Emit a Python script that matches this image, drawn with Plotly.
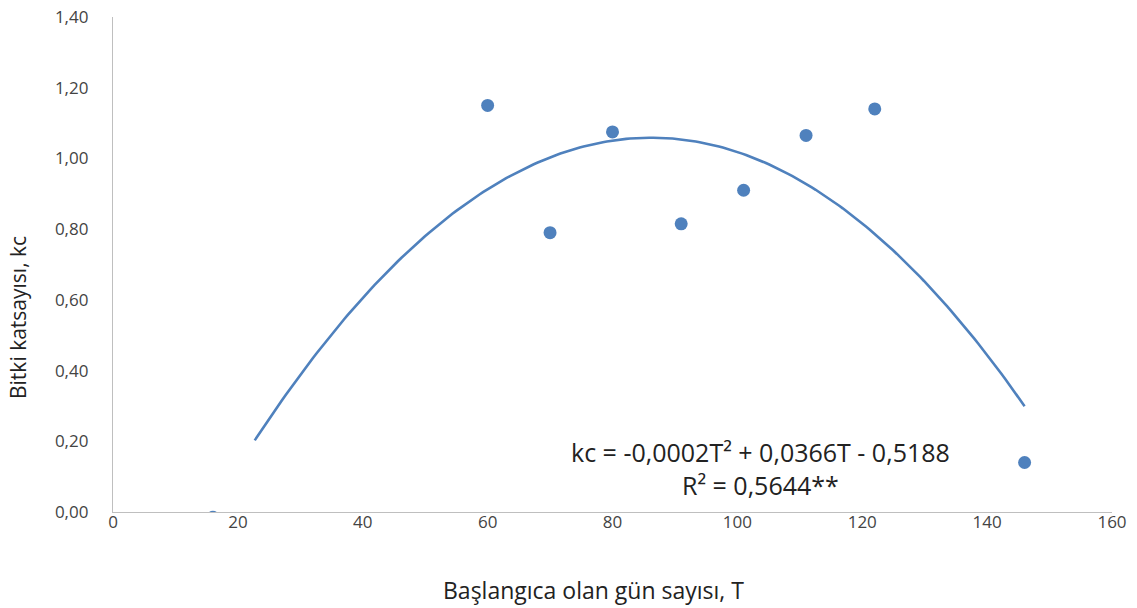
import numpy as np
import plotly.graph_objects as go

# Observed data (days from start, crop coefficient)
days = [16, 60, 70, 80, 91, 101, 111, 122, 146]
kc = [-0.015, 1.15, 0.79, 1.075, 0.815, 0.91, 1.065, 1.14, 0.14]

# Polynomial trendline coefficients (kc = a*T^2 + b*T + c)
coef_a = -0.0002123
coef_b = 0.0366
coef_c = -0.5188
trend_start = 22.7
trend_end = 146

x_ticks = [0, 20, 40, 60, 80, 100, 120, 140, 160]
y_ticks = [0.0, 0.2, 0.4, 0.6, 0.8, 1.0, 1.2, 1.4]
y_tick_labels = ["0,00", "0,20", "0,40", "0,60", "0,80", "1,00", "1,20", "1,40"]

blue = "#4F81BD"
font = "Open Sans, Liberation Sans, sans-serif"

L, R, T, B, W, H = 113, 25, 17, 96, 1137, 608
pw, ph = W - L - R, H - T - B

tx = np.linspace(trend_start, trend_end, 200)
ty = coef_a * tx**2 + coef_b * tx + coef_c

fig = go.Figure()
fig.add_trace(go.Scatter(x=tx, y=ty, mode="lines",
                         line=dict(color=blue, width=2.6), hoverinfo="skip"))
fig.add_trace(go.Scatter(x=days, y=kc, mode="markers",
                         marker=dict(color=blue, size=13), cliponaxis=True))

# Trendline equation
fig.add_annotation(x=(760 - L) / pw, xref="paper", y=(H - B - 468) / ph, yref="paper",
                   text="kc = -0,0002T² + 0,0366T - 0,5188<br>R² = 0,5644**",
                   showarrow=False, align="center", yanchor="middle",
                   font=dict(family=font, size=25, color="#222222"))
# Axis titles
fig.add_annotation(x=(593 - L) / pw, xref="paper", y=(H - B - 590) / ph, yref="paper",
                   text="Başlangıca olan gün sayısı, T", showarrow=False,
                   xanchor="center", yanchor="middle",
                   font=dict(family=font, size=23, color="#222222"))
fig.add_annotation(x=(18 - L) / pw, xref="paper", y=(H - B - 318) / ph, yref="paper",
                   text="Bitki katsayısı, kc", showarrow=False, textangle=-90,
                   xanchor="center", yanchor="middle",
                   font=dict(family=font, size=21, color="#222222"))

fig.update_layout(
    width=W, height=H,
    margin=dict(l=L, r=R, t=T, b=B),
    paper_bgcolor="white", plot_bgcolor="white",
    showlegend=False,
    font=dict(family=font, size=16, color="#444444"),
    xaxis=dict(range=[0, 160], tickvals=x_ticks, showgrid=False, zeroline=False,
               showline=True, linecolor="#BFBFBF", linewidth=1.3, automargin=False,
               ticks="", tickfont=dict(size=17, color="#444444"), ticklabelstandoff=-6),
    yaxis=dict(range=[0, 1.4], tickvals=y_ticks, ticktext=y_tick_labels,
               showgrid=False, zeroline=False, automargin=False,
               showline=True, linecolor="#BFBFBF", linewidth=1.3,
               ticks="", tickfont=dict(size=17, color="#444444"), ticklabelstandoff=20),
)

fig.write_html("out.html")
